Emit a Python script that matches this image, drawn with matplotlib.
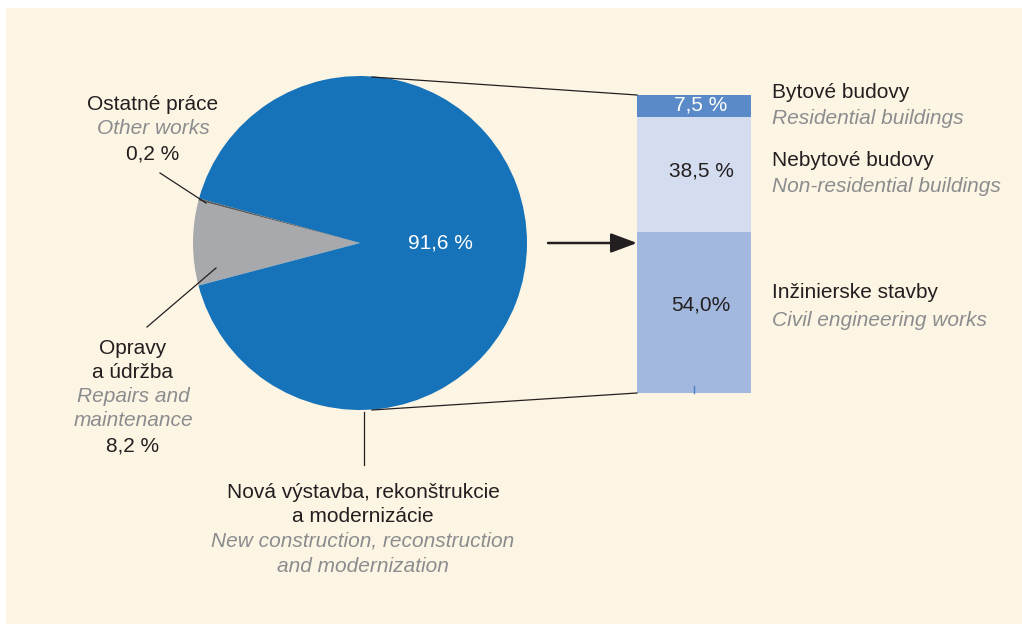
import matplotlib
matplotlib.use("Agg")
import matplotlib.pyplot as plt
from matplotlib.patches import Rectangle

# ---- data ----
pie_labels = ["Opravy a údržba", "Nová výstavba, rekonštrukcie a modernizácie", "Ostatné práce"]
pie_values = [8.2, 91.6, 0.2]
pie_colors = ["#a7a9ac", "#1673b9", "#5a5b5d"]

bar_labels = ["Inžinierske stavby", "Nebytové budovy", "Bytové budovy"]
bar_values = [54.0, 38.5, 7.5]
bar_texts = ["54,0%", "38,5 %", "7,5 %"]
bar_colors = ["#a3b8de", "#d4ddf0", "#5b8ac8"]
bar_text_colors = ["#231f20", "#231f20", "white"]

W, H = 1022, 626
DARK = "#231f20"
GREY = "#8a8c8e"
CREAM = "#fdf5e4"
FONT = "Liberation Sans"
FS = 15

fig = plt.figure(figsize=(W / 100, H / 100), dpi=100, facecolor="white")

def rect(l, t, w, h):
    return [l / W, (H - t - h) / H, w / W, h / H]

# background
bg = fig.add_axes([0, 0, 1, 1], zorder=0)
bg.set_xlim(0, W); bg.set_ylim(H, 0); bg.axis("off")
bg.add_patch(Rectangle((6, 8), W - 6, H - 10, facecolor=CREAM, edgecolor="none"))

# pie
cx, cy, r = 360, 243, 167
pax = fig.add_axes(rect(cx - r, cy - r, 2 * r, 2 * r), zorder=1)
pax.patch.set_alpha(0)
start = 180 - pie_values[0] / 100 * 360 / 2
pax.pie(pie_values, colors=pie_colors, startangle=start, counterclock=True,
        radius=1, wedgeprops=dict(linewidth=0))
pax.set_xlim(-1, 1); pax.set_ylim(-1, 1); pax.axis("off")

# stacked bar
bax = fig.add_axes(rect(637, 95, 114, 298), zorder=1)
bax.patch.set_alpha(0)
bottom = 0
for v, c in zip(bar_values, bar_colors):
    bax.bar(0, v, width=1, bottom=bottom, color=c, linewidth=0)
    bottom += v
bax.set_xlim(-0.5, 0.5); bax.set_ylim(0, 100); bax.axis("off")

# overlay
ov = fig.add_axes([0, 0, 1, 1], zorder=2)
ov.patch.set_alpha(0)
ov.set_xlim(0, W); ov.set_ylim(H, 0); ov.axis("off")

def txt(x, y, s, color=DARK, italic=False, ha="center"):
    ov.text(x, y, s, color=color, fontsize=FS, family=FONT,
            style="italic" if italic else "normal", ha=ha, va="center")

# connection lines
ov.plot([372, 637], [77, 95], color=DARK, lw=0.9)
ov.plot([372, 637], [410, 393], color=DARK, lw=0.9)
ov.annotate("", xy=(637, 243), xytext=(548, 243),
            arrowprops=dict(arrowstyle="-|>,head_length=1.6,head_width=0.6",
                            color=DARK, lw=1.8, shrinkA=0, shrinkB=0,
                            mutation_scale=10))
# small tick at bar bottom
ov.plot([694, 694], [386, 393], color="#4a7fc4", lw=1)

# leader lines
ov.plot([160, 206], [173, 203], color=DARK, lw=0.9)
ov.plot([147, 216], [327, 268], color=DARK, lw=0.9)
ov.plot([364, 364], [412, 465], color=DARK, lw=0.9)

# pie labels
ov.text(440, 243, "91,6 %", color="white", fontsize=FS, family=FONT, ha="center", va="center")
txt(153, 104, "Ostatné práce")
txt(153, 129, "Other works", GREY, True)
txt(153, 154, "0,2 %")
txt(133, 348, "Opravy")
txt(133, 372, "a údržba")
txt(133, 397, "Repairs and", GREY, True)
txt(133, 421, "maintenance", GREY, True)
txt(133, 446, "8,2 %")
txt(363, 492, "Nová výstavba, rekonštrukcie")
txt(363, 516, "a modernizácie")
txt(363, 541, "New construction, reconstruction", GREY, True)
txt(363, 566, "and modernization", GREY, True)

# bar value labels
bar_label_y = [305, 171, 105]
for y, t, tc in zip(bar_label_y, bar_texts, bar_text_colors):
    ov.text(701, y, t, color=tc, fontsize=FS, family=FONT, ha="center", va="center")

# bar category labels
txt(772, 93, "Bytové budovy", ha="left")
txt(772, 118, "Residential buildings", GREY, True, ha="left")
txt(772, 160, "Nebytové budovy", ha="left")
txt(772, 186, "Non-residential buildings", GREY, True, ha="left")
txt(772, 292, "Inžinierske stavby", ha="left")
txt(772, 320, "Civil engineering works", GREY, True, ha="left")

fig.savefig("out.png", dpi=100, facecolor=fig.get_facecolor())
